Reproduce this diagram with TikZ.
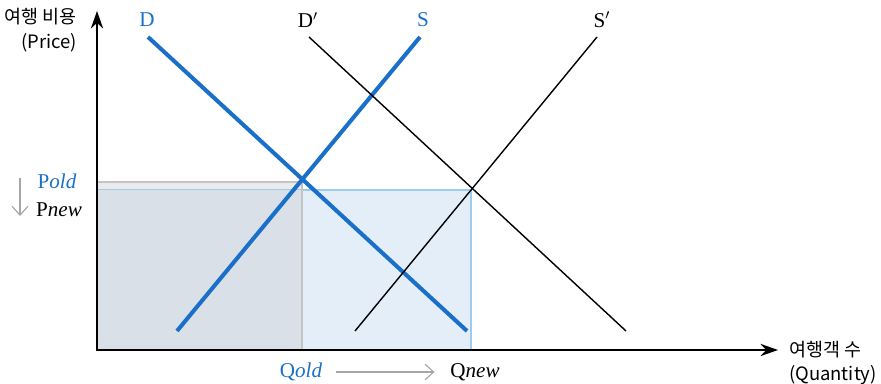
\documentclass[tikz,border=0pt]{standalone}
\usepackage{fontspec}
\setmainfont{Liberation Serif}
\newfontfamily\kofont{Noto Sans CJK KR}
\usetikzlibrary{arrows.meta,positioning}
\definecolor{mkBlue}{HTML}{1A70C8}
\definecolor{mkGray}{HTML}{A6A6A6}
\definecolor{oldFill}{HTML}{EBEBEB}
\definecolor{oldEdge}{HTML}{C4C4C4}
\definecolor{newFill}{HTML}{E3EEF9}
\definecolor{newEdge}{HTML}{9FCBEF}
\definecolor{bothFill}{HTML}{DAE0E8}
\tikzset{
  curveOld/.style={mkBlue,line width=2.3pt},
  curveNew/.style={black,line width=0.8pt},
  curveLbl/.style={font=\fontsize{12}{14}\selectfont},
  axisLbl/.style={font=\kofont\fontsize{10.5}{14}\selectfont},
  shiftArr/.style={mkGray,line width=0.65pt,-{Straight Barb[length=5pt,width=9pt]}}
}
\begin{document}
\begin{tikzpicture}[x=0.02cm,y=-0.02cm]
\useasboundingbox (0,0) rectangle (881,384);
% surplus areas
\fill[oldFill] (97,182) rectangle (302,350);
\filldraw[fill=newFill,draw=newEdge,line width=0.6pt] (97,190) rectangle (471,350);
\fill[bothFill] (97,190.3) rectangle (302,350);
\draw[oldEdge,line width=0.6pt] (97,182) -- (302,182) -- (302,350);
% demand and supply
\coordinate (d1) at (148,37);  \coordinate (d2) at (467,331);
\coordinate (s1) at (177,331); \coordinate (s2) at (420,37);
\coordinate (dd1) at (309,37); \coordinate (dd2) at (626,331);
\coordinate (ss1) at (355,331); \coordinate (ss2) at (597,37);
\draw[curveOld] (d1) -- (d2);
\draw[curveOld] (s1) -- (s2);
\draw[curveNew] (dd1) -- (dd2);
\draw[curveNew] (ss1) -- (ss2);
\node[curveLbl,mkBlue] (dLbl) at (147,20) {D};
\node[curveLbl] (ddLbl) at (308,20) {D$'$};
\node[curveLbl,mkBlue] (sLbl) at (423,20) {S};
\node[curveLbl] (ssLbl) at (602,20) {S$'$};
% axes
\coordinate (O) at (97,350);
\coordinate (yTop) at (97,11);
\coordinate (xEnd) at (778,350);
\draw[line width=0.8pt,{Stealth[length=10pt,width=7pt]}-{Stealth[length=10pt,width=7pt]}] (yTop) |- (xEnd);
\node[axisLbl,align=right,anchor=east] (yLbl) at (83,30) {여행 비용\\(Price)};
\node[axisLbl,align=left,anchor=west] (xLbl) at (783,363) {여행객 수\\(Quantity)};
% price and quantity shift
\node[curveLbl,mkBlue] (pOld) at (57,181) {P\textit{old}};
\node[curveLbl] (pNew) at (59,210) {P\textit{new}};
\coordinate (pArrA) at (20,178); \coordinate (pArrB) at (20,216);
\draw[shiftArr] (pArrA) -- (pArrB);
\node[curveLbl,mkBlue] (qOld) at (301,372) {Q\textit{old}};
\node[curveLbl] (qNew) at (475,372) {Q\textit{new}};
\draw[shiftArr,shorten <=4.5pt,shorten >=5.5pt] (qOld.east) -- (qNew.west);
\end{tikzpicture}
\end{document}
